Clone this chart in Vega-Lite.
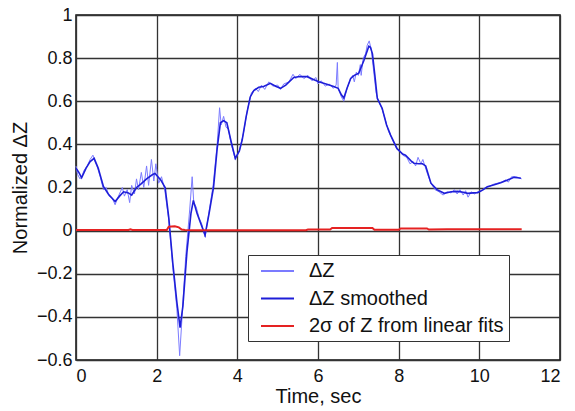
{
  "$schema": "https://vega.github.io/schema/vega-lite/v6.json",
  "width": 484,
  "height": 345,
  "autosize": {"type": "none"},
  "padding": {"left": 76, "top": 15, "right": 15, "bottom": 51},
  "background": "white",
  "config": {
    "font": "Liberation Sans",
    "view": {"stroke": "#111", "strokeWidth": 1.5},
    "axis": {
      "labelFont": "Liberation Sans",
      "labelFontSize": 18,
      "labelColor": "#111",
      "titleFont": "Liberation Sans",
      "titleFontSize": 20,
      "titleFontWeight": "normal",
      "titleColor": "#111",
      "grid": true,
      "gridColor": "#333333",
      "gridWidth": 1.3,
      "gridOpacity": 1,
      "ticks": false,
      "domain": false
    },
    "legend": {
      "labelFont": "Liberation Sans",
      "labelFontSize": 20,
      "labelColor": "#111",
      "labelLimit": 0
    }
  },
  "datasets": {
    "pts": [
      {"t": 0, "v": 0.30, "series": "ΔZ"},
      {"t": 0.04, "v": 0.26, "series": "ΔZ"},
      {"t": 0.1, "v": 0.24, "series": "ΔZ"},
      {"t": 0.14, "v": 0.25, "series": "ΔZ"},
      {"t": 0.2, "v": 0.28, "series": "ΔZ"},
      {"t": 0.28, "v": 0.30, "series": "ΔZ"},
      {"t": 0.35, "v": 0.33, "series": "ΔZ"},
      {"t": 0.42, "v": 0.35, "series": "ΔZ"},
      {"t": 0.47, "v": 0.32, "series": "ΔZ"},
      {"t": 0.52, "v": 0.30, "series": "ΔZ"},
      {"t": 0.6, "v": 0.25, "series": "ΔZ"},
      {"t": 0.68, "v": 0.19, "series": "ΔZ"},
      {"t": 0.75, "v": 0.20, "series": "ΔZ"},
      {"t": 0.82, "v": 0.16, "series": "ΔZ"},
      {"t": 0.9, "v": 0.15, "series": "ΔZ"},
      {"t": 0.97, "v": 0.12, "series": "ΔZ"},
      {"t": 1.03, "v": 0.15, "series": "ΔZ"},
      {"t": 1.1, "v": 0.18, "series": "ΔZ"},
      {"t": 1.15, "v": 0.20, "series": "ΔZ"},
      {"t": 1.2, "v": 0.16, "series": "ΔZ"},
      {"t": 1.27, "v": 0.19, "series": "ΔZ"},
      {"t": 1.33, "v": 0.13, "series": "ΔZ"},
      {"t": 1.38, "v": 0.21, "series": "ΔZ"},
      {"t": 1.45, "v": 0.17, "series": "ΔZ"},
      {"t": 1.5, "v": 0.24, "series": "ΔZ"},
      {"t": 1.55, "v": 0.19, "series": "ΔZ"},
      {"t": 1.62, "v": 0.27, "series": "ΔZ"},
      {"t": 1.68, "v": 0.20, "series": "ΔZ"},
      {"t": 1.75, "v": 0.30, "series": "ΔZ"},
      {"t": 1.8, "v": 0.21, "series": "ΔZ"},
      {"t": 1.87, "v": 0.33, "series": "ΔZ"},
      {"t": 1.93, "v": 0.23, "series": "ΔZ"},
      {"t": 1.98, "v": 0.31, "series": "ΔZ"},
      {"t": 2.05, "v": 0.22, "series": "ΔZ"},
      {"t": 2.12, "v": 0.25, "series": "ΔZ"},
      {"t": 2.2, "v": 0.19, "series": "ΔZ"},
      {"t": 2.3, "v": 0.05, "series": "ΔZ"},
      {"t": 2.4, "v": -0.17, "series": "ΔZ"},
      {"t": 2.5, "v": -0.36, "series": "ΔZ"},
      {"t": 2.57, "v": -0.58, "series": "ΔZ"},
      {"t": 2.63, "v": -0.40, "series": "ΔZ"},
      {"t": 2.72, "v": -0.12, "series": "ΔZ"},
      {"t": 2.82, "v": 0.10, "series": "ΔZ"},
      {"t": 2.88, "v": 0.25, "series": "ΔZ"},
      {"t": 2.92, "v": 0.13, "series": "ΔZ"},
      {"t": 2.98, "v": 0.11, "series": "ΔZ"},
      {"t": 3.05, "v": 0.06, "series": "ΔZ"},
      {"t": 3.12, "v": 0.03, "series": "ΔZ"},
      {"t": 3.2, "v": -0.03, "series": "ΔZ"},
      {"t": 3.3, "v": 0.09, "series": "ΔZ"},
      {"t": 3.4, "v": 0.21, "series": "ΔZ"},
      {"t": 3.5, "v": 0.40, "series": "ΔZ"},
      {"t": 3.56, "v": 0.57, "series": "ΔZ"},
      {"t": 3.6, "v": 0.49, "series": "ΔZ"},
      {"t": 3.66, "v": 0.53, "series": "ΔZ"},
      {"t": 3.72, "v": 0.48, "series": "ΔZ"},
      {"t": 3.78, "v": 0.47, "series": "ΔZ"},
      {"t": 3.85, "v": 0.40, "series": "ΔZ"},
      {"t": 3.95, "v": 0.33, "series": "ΔZ"},
      {"t": 4.05, "v": 0.37, "series": "ΔZ"},
      {"t": 4.15, "v": 0.45, "series": "ΔZ"},
      {"t": 4.25, "v": 0.56, "series": "ΔZ"},
      {"t": 4.35, "v": 0.64, "series": "ΔZ"},
      {"t": 4.45, "v": 0.66, "series": "ΔZ"},
      {"t": 4.52, "v": 0.645, "series": "ΔZ"},
      {"t": 4.6, "v": 0.675, "series": "ΔZ"},
      {"t": 4.68, "v": 0.655, "series": "ΔZ"},
      {"t": 4.78, "v": 0.69, "series": "ΔZ"},
      {"t": 4.88, "v": 0.67, "series": "ΔZ"},
      {"t": 5.0, "v": 0.675, "series": "ΔZ"},
      {"t": 5.07, "v": 0.655, "series": "ΔZ"},
      {"t": 5.15, "v": 0.68, "series": "ΔZ"},
      {"t": 5.28, "v": 0.69, "series": "ΔZ"},
      {"t": 5.38, "v": 0.725, "series": "ΔZ"},
      {"t": 5.45, "v": 0.705, "series": "ΔZ"},
      {"t": 5.55, "v": 0.725, "series": "ΔZ"},
      {"t": 5.65, "v": 0.705, "series": "ΔZ"},
      {"t": 5.75, "v": 0.72, "series": "ΔZ"},
      {"t": 5.85, "v": 0.695, "series": "ΔZ"},
      {"t": 5.95, "v": 0.71, "series": "ΔZ"},
      {"t": 6.0, "v": 0.68, "series": "ΔZ"},
      {"t": 6.08, "v": 0.695, "series": "ΔZ"},
      {"t": 6.18, "v": 0.67, "series": "ΔZ"},
      {"t": 6.28, "v": 0.68, "series": "ΔZ"},
      {"t": 6.38, "v": 0.66, "series": "ΔZ"},
      {"t": 6.45, "v": 0.675, "series": "ΔZ"},
      {"t": 6.48, "v": 0.78, "series": "ΔZ"},
      {"t": 6.5, "v": 0.66, "series": "ΔZ"},
      {"t": 6.58, "v": 0.62, "series": "ΔZ"},
      {"t": 6.64, "v": 0.60, "series": "ΔZ"},
      {"t": 6.72, "v": 0.66, "series": "ΔZ"},
      {"t": 6.8, "v": 0.70, "series": "ΔZ"},
      {"t": 6.86, "v": 0.72, "series": "ΔZ"},
      {"t": 6.9, "v": 0.69, "series": "ΔZ"},
      {"t": 6.95, "v": 0.735, "series": "ΔZ"},
      {"t": 7.0, "v": 0.72, "series": "ΔZ"},
      {"t": 7.05, "v": 0.77, "series": "ΔZ"},
      {"t": 7.07, "v": 0.72, "series": "ΔZ"},
      {"t": 7.12, "v": 0.80, "series": "ΔZ"},
      {"t": 7.18, "v": 0.82, "series": "ΔZ"},
      {"t": 7.22, "v": 0.86, "series": "ΔZ"},
      {"t": 7.27, "v": 0.88, "series": "ΔZ"},
      {"t": 7.32, "v": 0.84, "series": "ΔZ"},
      {"t": 7.38, "v": 0.74, "series": "ΔZ"},
      {"t": 7.44, "v": 0.64, "series": "ΔZ"},
      {"t": 7.5, "v": 0.60, "series": "ΔZ"},
      {"t": 7.58, "v": 0.57, "series": "ΔZ"},
      {"t": 7.66, "v": 0.52, "series": "ΔZ"},
      {"t": 7.75, "v": 0.46, "series": "ΔZ"},
      {"t": 7.85, "v": 0.42, "series": "ΔZ"},
      {"t": 7.95, "v": 0.38, "series": "ΔZ"},
      {"t": 8.03, "v": 0.37, "series": "ΔZ"},
      {"t": 8.1, "v": 0.35, "series": "ΔZ"},
      {"t": 8.2, "v": 0.34, "series": "ΔZ"},
      {"t": 8.28, "v": 0.31, "series": "ΔZ"},
      {"t": 8.36, "v": 0.32, "series": "ΔZ"},
      {"t": 8.42, "v": 0.30, "series": "ΔZ"},
      {"t": 8.48, "v": 0.34, "series": "ΔZ"},
      {"t": 8.55, "v": 0.31, "series": "ΔZ"},
      {"t": 8.6, "v": 0.33, "series": "ΔZ"},
      {"t": 8.65, "v": 0.30, "series": "ΔZ"},
      {"t": 8.72, "v": 0.26, "series": "ΔZ"},
      {"t": 8.8, "v": 0.22, "series": "ΔZ"},
      {"t": 8.9, "v": 0.19, "series": "ΔZ"},
      {"t": 9.0, "v": 0.18, "series": "ΔZ"},
      {"t": 9.1, "v": 0.165, "series": "ΔZ"},
      {"t": 9.2, "v": 0.18, "series": "ΔZ"},
      {"t": 9.3, "v": 0.175, "series": "ΔZ"},
      {"t": 9.38, "v": 0.19, "series": "ΔZ"},
      {"t": 9.45, "v": 0.17, "series": "ΔZ"},
      {"t": 9.52, "v": 0.19, "series": "ΔZ"},
      {"t": 9.6, "v": 0.165, "series": "ΔZ"},
      {"t": 9.66, "v": 0.185, "series": "ΔZ"},
      {"t": 9.72, "v": 0.155, "series": "ΔZ"},
      {"t": 9.8, "v": 0.18, "series": "ΔZ"},
      {"t": 9.88, "v": 0.17, "series": "ΔZ"},
      {"t": 9.95, "v": 0.18, "series": "ΔZ"},
      {"t": 10.05, "v": 0.185, "series": "ΔZ"},
      {"t": 10.15, "v": 0.20, "series": "ΔZ"},
      {"t": 10.25, "v": 0.205, "series": "ΔZ"},
      {"t": 10.35, "v": 0.215, "series": "ΔZ"},
      {"t": 10.45, "v": 0.22, "series": "ΔZ"},
      {"t": 10.55, "v": 0.225, "series": "ΔZ"},
      {"t": 10.65, "v": 0.235, "series": "ΔZ"},
      {"t": 10.72, "v": 0.225, "series": "ΔZ"},
      {"t": 10.8, "v": 0.25, "series": "ΔZ"},
      {"t": 10.9, "v": 0.25, "series": "ΔZ"},
      {"t": 11.0, "v": 0.245, "series": "ΔZ"},
      {"t": 11.05, "v": 0.24, "series": "ΔZ"},

      {"t": 0, "v": 0.29, "series": "ΔZ smoothed"},
      {"t": 0.07, "v": 0.27, "series": "ΔZ smoothed"},
      {"t": 0.14, "v": 0.245, "series": "ΔZ smoothed"},
      {"t": 0.25, "v": 0.29, "series": "ΔZ smoothed"},
      {"t": 0.35, "v": 0.32, "series": "ΔZ smoothed"},
      {"t": 0.45, "v": 0.335, "series": "ΔZ smoothed"},
      {"t": 0.55, "v": 0.29, "series": "ΔZ smoothed"},
      {"t": 0.68, "v": 0.205, "series": "ΔZ smoothed"},
      {"t": 0.8, "v": 0.17, "series": "ΔZ smoothed"},
      {"t": 0.97, "v": 0.135, "series": "ΔZ smoothed"},
      {"t": 1.08, "v": 0.16, "series": "ΔZ smoothed"},
      {"t": 1.18, "v": 0.18, "series": "ΔZ smoothed"},
      {"t": 1.3, "v": 0.175, "series": "ΔZ smoothed"},
      {"t": 1.38, "v": 0.165, "series": "ΔZ smoothed"},
      {"t": 1.5, "v": 0.20, "series": "ΔZ smoothed"},
      {"t": 1.6, "v": 0.215, "series": "ΔZ smoothed"},
      {"t": 1.75, "v": 0.24, "series": "ΔZ smoothed"},
      {"t": 1.9, "v": 0.26, "series": "ΔZ smoothed"},
      {"t": 1.96, "v": 0.265, "series": "ΔZ smoothed"},
      {"t": 2.1, "v": 0.235, "series": "ΔZ smoothed"},
      {"t": 2.21, "v": 0.20, "series": "ΔZ smoothed"},
      {"t": 2.3, "v": 0.06, "series": "ΔZ smoothed"},
      {"t": 2.4, "v": -0.15, "series": "ΔZ smoothed"},
      {"t": 2.5, "v": -0.33, "series": "ΔZ smoothed"},
      {"t": 2.58, "v": -0.45, "series": "ΔZ smoothed"},
      {"t": 2.65, "v": -0.35, "series": "ΔZ smoothed"},
      {"t": 2.75, "v": -0.10, "series": "ΔZ smoothed"},
      {"t": 2.85, "v": 0.08, "series": "ΔZ smoothed"},
      {"t": 2.91, "v": 0.14, "series": "ΔZ smoothed"},
      {"t": 3.0, "v": 0.08, "series": "ΔZ smoothed"},
      {"t": 3.1, "v": 0.03, "series": "ΔZ smoothed"},
      {"t": 3.2, "v": -0.02, "series": "ΔZ smoothed"},
      {"t": 3.3, "v": 0.08, "series": "ΔZ smoothed"},
      {"t": 3.41, "v": 0.20, "series": "ΔZ smoothed"},
      {"t": 3.5, "v": 0.38, "series": "ΔZ smoothed"},
      {"t": 3.58, "v": 0.50, "series": "ΔZ smoothed"},
      {"t": 3.66, "v": 0.51, "series": "ΔZ smoothed"},
      {"t": 3.74, "v": 0.50, "series": "ΔZ smoothed"},
      {"t": 3.85, "v": 0.41, "series": "ΔZ smoothed"},
      {"t": 3.95, "v": 0.335, "series": "ΔZ smoothed"},
      {"t": 4.05, "v": 0.37, "series": "ΔZ smoothed"},
      {"t": 4.12, "v": 0.42, "series": "ΔZ smoothed"},
      {"t": 4.22, "v": 0.53, "series": "ΔZ smoothed"},
      {"t": 4.32, "v": 0.62, "series": "ΔZ smoothed"},
      {"t": 4.41, "v": 0.65, "series": "ΔZ smoothed"},
      {"t": 4.53, "v": 0.665, "series": "ΔZ smoothed"},
      {"t": 4.65, "v": 0.668, "series": "ΔZ smoothed"},
      {"t": 4.82, "v": 0.683, "series": "ΔZ smoothed"},
      {"t": 4.95, "v": 0.67, "series": "ΔZ smoothed"},
      {"t": 5.07, "v": 0.66, "series": "ΔZ smoothed"},
      {"t": 5.2, "v": 0.675, "series": "ΔZ smoothed"},
      {"t": 5.4, "v": 0.71, "series": "ΔZ smoothed"},
      {"t": 5.55, "v": 0.715, "series": "ΔZ smoothed"},
      {"t": 5.73, "v": 0.714, "series": "ΔZ smoothed"},
      {"t": 5.9, "v": 0.70, "series": "ΔZ smoothed"},
      {"t": 6.02, "v": 0.69, "series": "ΔZ smoothed"},
      {"t": 6.2, "v": 0.68, "series": "ΔZ smoothed"},
      {"t": 6.39, "v": 0.668, "series": "ΔZ smoothed"},
      {"t": 6.5, "v": 0.66, "series": "ΔZ smoothed"},
      {"t": 6.58, "v": 0.63, "series": "ΔZ smoothed"},
      {"t": 6.64, "v": 0.615, "series": "ΔZ smoothed"},
      {"t": 6.72, "v": 0.66, "series": "ΔZ smoothed"},
      {"t": 6.81, "v": 0.706, "series": "ΔZ smoothed"},
      {"t": 6.9, "v": 0.72, "series": "ΔZ smoothed"},
      {"t": 7.01, "v": 0.73, "series": "ΔZ smoothed"},
      {"t": 7.14, "v": 0.79, "series": "ΔZ smoothed"},
      {"t": 7.26, "v": 0.855, "series": "ΔZ smoothed"},
      {"t": 7.3, "v": 0.85, "series": "ΔZ smoothed"},
      {"t": 7.35, "v": 0.82, "series": "ΔZ smoothed"},
      {"t": 7.41, "v": 0.72, "series": "ΔZ smoothed"},
      {"t": 7.47, "v": 0.614, "series": "ΔZ smoothed"},
      {"t": 7.59, "v": 0.567, "series": "ΔZ smoothed"},
      {"t": 7.7, "v": 0.49, "series": "ΔZ smoothed"},
      {"t": 7.8, "v": 0.443, "series": "ΔZ smoothed"},
      {"t": 7.96, "v": 0.38, "series": "ΔZ smoothed"},
      {"t": 8.1, "v": 0.355, "series": "ΔZ smoothed"},
      {"t": 8.17, "v": 0.35, "series": "ΔZ smoothed"},
      {"t": 8.3, "v": 0.325, "series": "ΔZ smoothed"},
      {"t": 8.38, "v": 0.312, "series": "ΔZ smoothed"},
      {"t": 8.5, "v": 0.31, "series": "ΔZ smoothed"},
      {"t": 8.59, "v": 0.31, "series": "ΔZ smoothed"},
      {"t": 8.67, "v": 0.30, "series": "ΔZ smoothed"},
      {"t": 8.8, "v": 0.22, "series": "ΔZ smoothed"},
      {"t": 8.95, "v": 0.19, "series": "ΔZ smoothed"},
      {"t": 9.13, "v": 0.173, "series": "ΔZ smoothed"},
      {"t": 9.3, "v": 0.18, "series": "ΔZ smoothed"},
      {"t": 9.46, "v": 0.182, "series": "ΔZ smoothed"},
      {"t": 9.6, "v": 0.178, "series": "ΔZ smoothed"},
      {"t": 9.71, "v": 0.173, "series": "ΔZ smoothed"},
      {"t": 9.85, "v": 0.175, "series": "ΔZ smoothed"},
      {"t": 9.96, "v": 0.176, "series": "ΔZ smoothed"},
      {"t": 10.1, "v": 0.19, "series": "ΔZ smoothed"},
      {"t": 10.2, "v": 0.204, "series": "ΔZ smoothed"},
      {"t": 10.35, "v": 0.212, "series": "ΔZ smoothed"},
      {"t": 10.53, "v": 0.222, "series": "ΔZ smoothed"},
      {"t": 10.7, "v": 0.235, "series": "ΔZ smoothed"},
      {"t": 10.86, "v": 0.247, "series": "ΔZ smoothed"},
      {"t": 10.95, "v": 0.245, "series": "ΔZ smoothed"},
      {"t": 11.03, "v": 0.243, "series": "ΔZ smoothed"},

      {"t": 0, "v": 0.003, "series": "2σ of Z from linear fits"},
      {"t": 1.3, "v": 0.003, "series": "2σ of Z from linear fits"},
      {"t": 1.35, "v": 0.006, "series": "2σ of Z from linear fits"},
      {"t": 1.4, "v": 0.003, "series": "2σ of Z from linear fits"},
      {"t": 2.25, "v": 0.003, "series": "2σ of Z from linear fits"},
      {"t": 2.3, "v": 0.018, "series": "2σ of Z from linear fits"},
      {"t": 2.45, "v": 0.02, "series": "2σ of Z from linear fits"},
      {"t": 2.55, "v": 0.015, "series": "2σ of Z from linear fits"},
      {"t": 2.62, "v": 0.005, "series": "2σ of Z from linear fits"},
      {"t": 2.7, "v": 0.003, "series": "2σ of Z from linear fits"},
      {"t": 3.0, "v": 0.002, "series": "2σ of Z from linear fits"},
      {"t": 5.7, "v": 0.002, "series": "2σ of Z from linear fits"},
      {"t": 5.75, "v": 0.005, "series": "2σ of Z from linear fits"},
      {"t": 6.3, "v": 0.005, "series": "2σ of Z from linear fits"},
      {"t": 6.35, "v": 0.012, "series": "2σ of Z from linear fits"},
      {"t": 7.35, "v": 0.012, "series": "2σ of Z from linear fits"},
      {"t": 7.4, "v": 0.004, "series": "2σ of Z from linear fits"},
      {"t": 8.0, "v": 0.004, "series": "2σ of Z from linear fits"},
      {"t": 8.05, "v": 0.01, "series": "2σ of Z from linear fits"},
      {"t": 8.7, "v": 0.01, "series": "2σ of Z from linear fits"},
      {"t": 8.75, "v": 0.005, "series": "2σ of Z from linear fits"},
      {"t": 9.2, "v": 0.006, "series": "2σ of Z from linear fits"},
      {"t": 11.05, "v": 0.006, "series": "2σ of Z from linear fits"}
    ]
  },
  "data": {"name": "pts"},
  "encoding": {
    "x": {
      "field": "t", "type": "quantitative",
      "scale": {"domain": [0, 12], "nice": false, "zero": false},
      "axis": {"values": [0, 2, 4, 6, 8, 10, 12], "title": "Time, sec", "labelPadding": 7, "titlePadding": 1, "format": "d"}
    },
    "y": {
      "field": "v", "type": "quantitative",
      "scale": {"domain": [-0.6, 1], "nice": false, "zero": false},
      "axis": {"values": [-0.6, -0.4, -0.2, 0, 0.2, 0.4, 0.6, 0.8, 1], "title": "Normalized ΔZ", "labelPadding": 4, "titlePadding": 6, "labelExpr": "datum.value == 0 ? '0' : datum.value == 1 ? '1' : format(datum.value, '.1f')"}
    },
    "color": {
      "field": "series", "type": "nominal",
      "scale": {
        "domain": ["ΔZ", "ΔZ smoothed", "2σ of Z from linear fits"],
        "range": ["#7b7bff", "#1e1ed8", "#e52222"]
      },
      "legend": {
        "title": null,
        "orient": "none",
        "legendX": 172,
        "legendY": 240,
        "symbolType": "M-0.3,0H3",
        "symbolSize": 400,
        "symbolStrokeWidth": 1.8,
        "strokeColor": "#333",
        "fillColor": "white",
        "padding": 5,
        "rowPadding": 6.5,
        "labelOffset": 34,
        "offset": 0
      }
    }
  },
  "layer": [
    {"transform": [{"filter": "datum.series == 'ΔZ'"}], "mark": {"type": "line", "strokeWidth": 1}},
    {"transform": [{"filter": "datum.series == 'ΔZ smoothed'"}], "mark": {"type": "line", "strokeWidth": 1.6}},
    {"transform": [{"filter": "datum.series != 'ΔZ' && datum.series != 'ΔZ smoothed'"}], "mark": {"type": "line", "strokeWidth": 2}}
  ]
}
